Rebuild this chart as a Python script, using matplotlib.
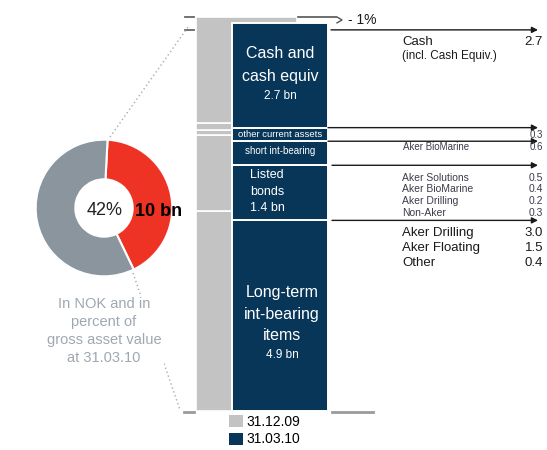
import matplotlib
matplotlib.use("Agg")
import matplotlib.pyplot as plt
from matplotlib.patches import Patch

plt.rcParams["font.family"] = ["Liberation Sans", "DejaVu Sans"]

# Portfolio share of gross asset value
share_labels = ["Cash & int-bearing", "Other assets"]
share_pct = [42, 58]

# Segments, listed top to bottom (bn NOK), heights
segments = ["Cash and cash equiv", "other current assets", "short int-bearing",
            "Listed bonds", "Long-term int-bearing items"]
bn_311209 = [2.75, 0.17, 0.13, 1.96, 5.14]
bn_310310 = [2.7, 0.35, 0.62, 1.42, 4.9]
periods = ["31.12.09", "31.03.10"]

# Breakdown on the right
short_names = ["Aker BioMarine"]
short_vals = ["0.6"]
bond_names = ["Aker Solutions", "Aker BioMarine", "Aker Drilling", "Non-Aker"]
bond_vals = ["0.5", "0.4", "0.2", "0.3"]
long_names = ["Aker Drilling", "Aker Floating", "Other"]
long_vals = ["3.0", "1.5", "0.4"]

NAVY = "#073659"
LGREY = "#c3c3c3"
RED = "#ee3224"
DGREY = "#8b959d"

fig = plt.figure(figsize=(5.47, 4.5), dpi=100)
ax = fig.add_axes([0, 0, 1, 1])
# x in pixels, y in bn; 0 bn sits at 410.5 px from the top
scale = 38.8
base = 39.5
ax.set_xlim(0, 547)
ax.set_ylim(-base / scale, (450 - base) / scale)
ax.axis("off")


def val(ypix):
    # pixel row (from top) -> bn value on the bar axis
    return (410.5 - ypix) / scale


# stacked bars, bottom segment first
def stack(ax, x, width, values, color, lw):
    tops = []
    bottom = 0
    for v in values[::-1]:
        ax.bar(x, v, width, bottom=bottom, color=color, edgecolor="white",
               linewidth=lw, zorder=2)
        bottom += v
        tops.append(bottom)
    return tops[::-1]


stack(ax, 246.5, 101, bn_311209, LGREY, 1.2)
navy_tops = stack(ax, 280, 96, bn_310310, NAVY, 1.4)
navy_bottoms = navy_tops[1:] + [0]
mids = [(t + b) / 2 for t, b in zip(navy_tops, navy_bottoms)]

# labels inside navy bar
ax.text(280, val(65), "Cash and\ncash equiv", color="white", fontsize=11.5,
        ha="center", va="center", linespacing=1.6, zorder=3)
ax.text(280, val(96), "2.7 bn", color="white", fontsize=8.5,
        ha="center", va="center", zorder=3)
ax.text(280, mids[1], segments[1], color="white", fontsize=6.8,
        ha="center", va="center", zorder=3)
ax.text(280, mids[2] + 0.05, segments[2], color="white", fontsize=7,
        ha="center", va="center", zorder=3)
ax.text(267, mids[3] + 0.03, "Listed\nbonds\n1.4 bn", color="white", fontsize=9,
        ha="center", va="center", linespacing=1.5, zorder=3)
ax.text(282, val(314), "Long-term\nint-bearing\nitems", color="white", fontsize=11.5,
        ha="center", va="center", linespacing=1.5, zorder=3)
ax.text(282, val(355), "4.9 bn", color="white", fontsize=8.5,
        ha="center", va="center", zorder=3)

# arrows to the breakdown
arrow_y = [navy_tops[0] - 0.18] + navy_tops[1:]
arrow_x0 = [331, 328, 328, 332, 332]
for y, x0 in zip(arrow_y, arrow_x0):
    ax.annotate("", xy=(538, y), xytext=(x0, y),
                arrowprops=dict(arrowstyle="-|>", color="#1a1a1a", lw=1,
                                mutation_scale=9, shrinkA=0, shrinkB=0))

TXT = "#1a1a1a"
SMALL = "#3c3c4c"
ax.text(402, val(42), "Cash", fontsize=9.5, color=TXT, va="center")
ax.text(543, val(42), "2.7", fontsize=9.5, color=TXT, va="center", ha="right")
ax.text(402, val(56), "(incl. Cash Equiv.)", fontsize=8.5, color=TXT, va="center")
ax.text(543, val(135), "0.3", fontsize=7, color=SMALL, va="center", ha="right")
for name, v in zip(short_names, short_vals):
    ax.text(403, val(147), name, fontsize=7, color=SMALL, va="center")
    ax.text(543, val(147), v, fontsize=7, color=SMALL, va="center", ha="right")
for i, (name, v) in enumerate(zip(bond_names, bond_vals)):
    y = val(178 + i * 11.5)
    ax.text(402, y, name, fontsize=7.5, color=SMALL, va="center")
    ax.text(543, y, v, fontsize=7.5, color=SMALL, va="center", ha="right")
for i, (name, v) in enumerate(zip(long_names, long_vals)):
    y = val(233 + i * 15)
    ax.text(402, y, name, fontsize=9.5, color=TXT, va="center")
    ax.text(543, y, v, fontsize=9.5, color=TXT, va="center", ha="right")

# -1% bracket at the top
top_grey = val(17)
top_navy = navy_tops[0]
ax.plot([298, 336], [top_grey, top_grey], color="#555555", lw=1.2)
ax.plot([337, 342, 337], [top_grey, (top_grey + top_navy) / 2, top_navy],
        color="#555555", lw=1)
ax.text(348, (top_grey + top_navy) / 2, "- 1%", fontsize=10, color=TXT, va="center")

# small ticks at left and bottom
for yp in [17, 30]:
    ax.plot([185, 194], [val(yp), val(yp)], color="#666666", lw=1.3)
ax.plot([184, 194], [val(411.5), val(411.5)], color="#9a9a9a", lw=2)
ax.plot([332, 373], [val(411.5), val(411.5)], color="#9a9a9a", lw=2)

# dotted connectors from the donut
ax.plot([110, 188], [val(137), val(27)], ls=(0, (1, 2)), color="#a4acb4", lw=1)
ax.plot([133, 180], [val(273), val(410)], ls=(0, (1, 2)), color="#a4acb4", lw=1)

ax.text(104, val(331), "In NOK and in\npercent of\ngross asset value\nat 31.03.10",
        fontsize=10.5, color="#9fa8b0", ha="center", va="center", linespacing=1.35,
        bbox=dict(facecolor="white", edgecolor="none", pad=2), zorder=4)

# legend
handles = [Patch(facecolor=LGREY), Patch(facecolor=NAVY)]
ax.legend(handles, periods, loc="upper left", bbox_to_anchor=(229 / 547, 1 - 415 / 450),
          frameon=False, fontsize=10, handlelength=1.0, handleheight=1.0,
          handletextpad=0.25, labelspacing=0.25, borderpad=0, borderaxespad=0)

# donut
ax_pie = fig.add_axes([35 / 547, (450 - 208 - 69) / 450, 138 / 547, 138 / 450])
ax_pie.pie(share_pct, colors=[RED, DGREY], startangle=87, counterclock=False,
           wedgeprops=dict(width=0.58, edgecolor="white", linewidth=1.5))
ax_pie.set_xlim(-1.01, 1.01)
ax_pie.set_ylim(-1.01, 1.01)
ax_pie.text(0.01, -0.04, f"{share_pct[0]}%", fontsize=13,
            color="#222222", ha="center", va="center")
fig.text(135 / 547, 1 - 212 / 450, "10 bn", fontsize=13, fontweight="bold",
         color="black", va="center", zorder=5)

fig.savefig("out.png", dpi=100)
